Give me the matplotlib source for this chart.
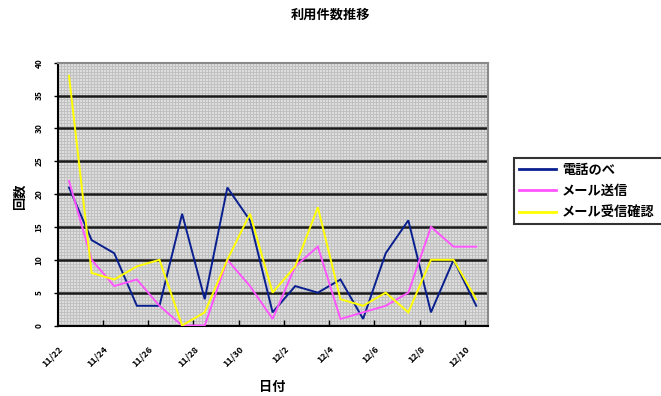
import matplotlib
matplotlib.use("Agg")
import matplotlib.pyplot as plt
import numpy as np
from matplotlib.transforms import ScaledTranslation

plt.rcParams['font.family'] = ['Noto Sans CJK JP', 'DejaVu Sans']

# daily usage counts, 11/22 - 12/10
dates = ["11/22", "11/23", "11/24", "11/25", "11/26", "11/27", "11/28",
         "11/29", "11/30", "12/1", "12/2", "12/3", "12/4", "12/5",
         "12/6", "12/7", "12/8", "12/9", "12/10"]
phone_calls = [21, 13, 11, 3, 3, 17, 4, 21, 16, 2, 6, 5, 7, 1, 11, 16, 2, 10, 3]
mail_sent = [22, 10, 6, 7, 3, 0, 0, 10, 6, 1, 9, 12, 1, 2, 3, 5, 15, 12, 12]
mail_confirmed = [38, 8, 7, 9, 10, 0, 2, 10, 17, 5, 9, 18, 4, 3, 5, 2, 10, 10, 4]
series_labels = ["電話のべ", "メール送信", "メール受信確認"]
series_colors = ["#0a1f8f", "#ff55ff", "#ffff00"]
y_ticks = [0, 5, 10, 15, 20, 25, 30, 35, 40]

W, H, DPI = 661, 396, 100
fig = plt.figure(figsize=(W / DPI, H / DPI), dpi=DPI)
fig.patch.set_facecolor("white")

left, right, top, bottom = 57.7, 487.5, 62.7, 325.5
ax = fig.add_axes([left / W, 1 - bottom / H, (right - left) / W, (bottom - top) / H])

n = len(dates)
x = np.arange(n)

# dotted gray plot-area fill, one texel per screen pixel
pw, ph = int(round(right - left)), int(round(bottom - top))
rr, cc = np.mgrid[0:ph, 0:pw]
pattern = np.where((rr % 3 == 0) | (cc % 3 == 0), 0.76, 0.87)
ax.imshow(np.dstack([pattern] * 3), extent=(-0.5, n - 0.5, 0, 40),
          aspect="auto", interpolation="nearest", zorder=0)

for yv in y_ticks[1:-1]:
    ax.axhline(yv, color="#1a1a1a", lw=1.8, zorder=1)

for vals, lab, col in zip([phone_calls, mail_sent, mail_confirmed],
                          series_labels, series_colors):
    ax.plot(x, vals, color=col, lw=1.4, label=lab, zorder=3,
            solid_joinstyle="miter")

ax.set_xlim(-0.5, n - 0.5)
ax.set_ylim(0, 40)

for side in ("left", "bottom"):
    ax.spines[side].set_color("black")
    ax.spines[side].set_linewidth(1.5)
for side in ("top", "right"):
    ax.spines[side].set_color("#8a8a8a")
    ax.spines[side].set_linewidth(1.5)

# y axis
ax.set_yticks(y_ticks)
ax.set_yticklabels([str(v) for v in y_ticks], rotation=90, va="center",
                   ha="right", fontsize=6, fontweight="bold")
ax.tick_params(axis="y", direction="out", length=3, width=1, pad=7)

# x axis: tick marks between every second day, labels on every second day
ax.set_xticks(np.arange(1.5, n - 1, 2))
ax.set_xticklabels([])
ax.tick_params(axis="x", which="major", direction="in", length=4, width=1)
label_pos = x[::2]
ax.set_xticks(label_pos, minor=True)
ax.set_xticklabels([dates[i] for i in label_pos], minor=True, rotation=45,
                   ha="right", va="center", rotation_mode="anchor",
                   fontsize=6.5, fontweight="bold")
ax.tick_params(axis="x", which="minor", length=0, pad=16)
shift = ScaledTranslation(-8 / DPI, 0, fig.dpi_scale_trans)
for lbl in ax.get_xticklabels(minor=True):
    lbl.set_transform(lbl.get_transform() + shift)

fig.text(0.5, 1 - 15 / H, "利用件数推移", ha="center", va="center",
         fontsize=9.5, fontweight="bold")
fig.text(272 / W, 1 - 387 / H, "日付", ha="center", va="center",
         fontsize=9.5, fontweight="bold")
fig.text(20 / W, 1 - 197 / H, "回数", ha="center", va="center",
         rotation=90, fontsize=9.5, fontweight="bold")

# legend box runs past the right edge of the figure
leg = fig.legend(loc="upper left", mode="expand",
                 bbox_to_anchor=(514 / W, 1 - 228 / H, 170 / W, 70 / H),
                 frameon=True, fancybox=False, edgecolor="black",
                 prop={"size": 9.5, "weight": "bold"}, borderaxespad=0,
                 borderpad=0.35, handlelength=2.8, handletextpad=0.5,
                 labelspacing=0.55)
leg.get_frame().set_linewidth(1.5)
for line in leg.get_lines():
    line.set_linewidth(2)

fig.savefig("out.png", dpi=DPI)
